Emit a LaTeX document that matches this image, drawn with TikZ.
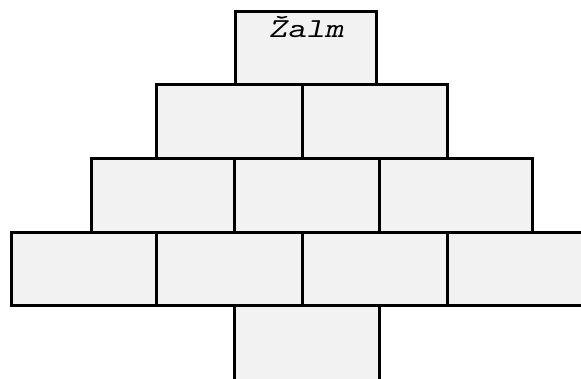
\documentclass[tikz,border=0pt]{standalone}
\usepackage{fontspec}
\usepackage{graphicx}
\begin{document}
\begin{tikzpicture}[x=1pt,y=-1pt,
  brick/.style={draw=black, fill=brickfill, line width=3pt, line join=miter}]
\definecolor{brickfill}{HTML}{F2F2F2}
\useasboundingbox (0,0) rectangle (581,378);
\clip (0,0) rectangle (581,378);
% row 1
\draw[brick] (235.5,11) rectangle (376,84);
% row 2
\draw[brick] (156,84) rectangle (302,158);
\draw[brick] (302,84) rectangle (447,158);
% row 3
\draw[brick] (91,158) rectangle (234,232);
\draw[brick] (234,158) rectangle (379,232);
\draw[brick] (379,158) rectangle (532,232);
% row 4
\draw[brick] (11,232) rectangle (156,305.5);
\draw[brick] (156,232) rectangle (302,305.5);
\draw[brick] (302,232) rectangle (447,305.5);
\draw[brick] (447,232) rectangle (600,305.5);
% row 5
\draw[brick] (234,305.5) rectangle (379,400);
\node[anchor=base, inner sep=0pt, font=\ttfamily\slshape\fontsize{27.5}{29}\selectfont] (title) at (306,37.7) {\scalebox{1.3}[1]{Žalm}};
\end{tikzpicture}
\end{document}
